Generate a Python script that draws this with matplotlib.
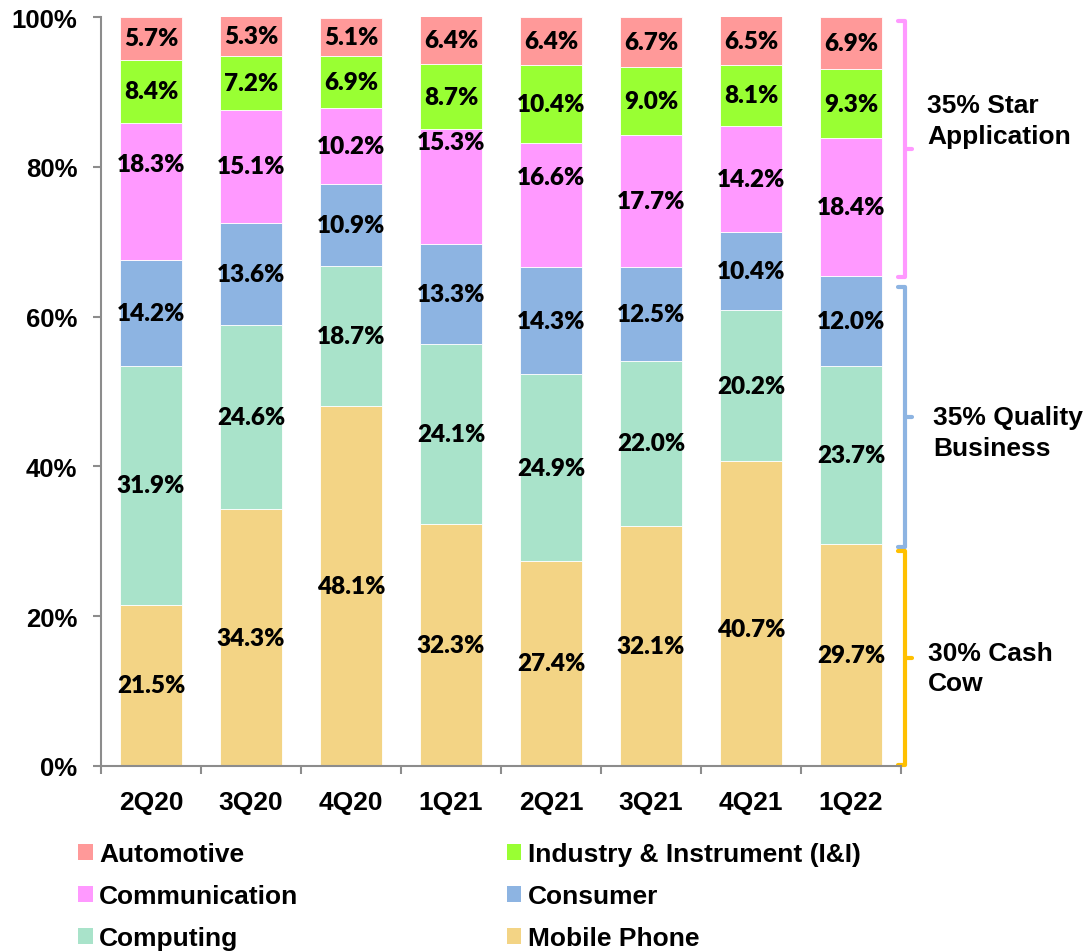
import matplotlib
matplotlib.use("Agg")
import matplotlib.pyplot as plt
from matplotlib.patches import Patch
import numpy as np

quarters = ["2Q20", "3Q20", "4Q20", "1Q21", "2Q21", "3Q21", "4Q21", "1Q22"]
mobile_phone = [21.5, 34.3, 48.1, 32.3, 27.4, 32.1, 40.7, 29.7]
computing = [31.9, 24.6, 18.7, 24.1, 24.9, 22.0, 20.2, 23.7]
consumer = [14.2, 13.6, 10.9, 13.3, 14.3, 12.5, 10.4, 12.0]
communication = [18.3, 15.1, 10.2, 15.3, 16.6, 17.7, 14.2, 18.4]
industry = [8.4, 7.2, 6.9, 8.7, 10.4, 9.0, 8.1, 9.3]
automotive = [5.7, 5.3, 5.1, 6.4, 6.4, 6.7, 6.5, 6.9]

series = [
    ("Mobile Phone", mobile_phone, "#F3D485"),
    ("Computing", computing, "#A9E3CA"),
    ("Consumer", consumer, "#8DB4E2"),
    ("Communication", communication, "#FF99FF"),
    ("Industry & Instrument (I&I)", industry, "#99FF33"),
    ("Automotive", automotive, "#FF9999"),
]

# manual label nudges (in % units) seen in the original
label_nudge = {("Communication", 0): 3.6, ("Communication", 3): 6.0,
               ("Communication", 4): 3.7, ("Mobile Phone", 6): -2.0}

groups = [
    ("35% Star\nApplication", "#FF99FF", 99.4, 65.3, 86.2, 7.76),
    ("35% Quality\nBusiness", "#8DB4E2", 64.0, 29.2, 44.5, 7.82),
    ("30% Cash\nCow", "#FFC000", 28.7, 0.1, 13.1, 7.77),
]

fig = plt.figure(figsize=(10.86, 9.53), dpi=100)
ax = fig.add_axes([101/1086, 1-767/953, 800/1086, 749/953])

x = np.arange(len(quarters))
bottom = np.zeros(len(quarters))
handles = {}
for name, vals, col in series:
    vals = np.array(vals)
    ax.bar(x, vals, 0.62, bottom=bottom, color=col, edgecolor="white", linewidth=0.6)
    for i, v in enumerate(vals):
        yc = bottom[i] + v/2 + label_nudge.get((name, i), 0)
        ax.text(x[i], yc, f"{v:.1f}%", ha="center", va="center",
                fontsize=17.5, fontweight="heavy", family="Lato", color="black")
    bottom += vals
    handles[name] = Patch(facecolor=col, edgecolor="none")

ax.set_xlim(-0.5, 7.5)
ax.set_ylim(0, 100)
for s in ["top", "right"]:
    ax.spines[s].set_visible(False)
for s in ["left", "bottom"]:
    ax.spines[s].set_color("#8C8C8C")
    ax.spines[s].set_linewidth(1.5)

ax.set_yticks([0, 20, 40, 60, 80, 100])
ax.set_yticklabels([f"{v}%" for v in [0, 20, 40, 60, 80, 100]],
                   fontsize=18.5, fontweight="bold", family="Liberation Sans")
ax.tick_params(axis="y", length=6, width=1.5, color="#8C8C8C", pad=11)
ax.set_xticks(np.arange(-0.5, 8, 1))
ax.set_xticklabels([])
ax.tick_params(axis="x", length=6, width=1.5, color="#8C8C8C")
ax.set_xticks(x, minor=True)
ax.set_xticklabels(quarters, minor=True, fontsize=19, fontweight="bold",
                   family="Liberation Sans")
ax.tick_params(axis="x", which="minor", length=0, pad=17)

# brackets
for text, col, ytop, ybot, ytext, xt in groups:
    xv, xh, xn = 7.535, 7.465, 7.61
    ym = (ytop + ybot) / 2
    ax.plot([xh, xv, xv, xh], [ytop, ytop, ybot, ybot], color=col, lw=3,
            clip_on=False, solid_joinstyle="round", solid_capstyle="round")
    ax.plot([xv, xn], [ym, ym], color=col, lw=3, clip_on=False,
            solid_capstyle="round")
    ax.text(xt, ytext, text, ha="left", va="center", fontsize=19,
            fontweight="bold", family="Liberation Sans", linespacing=1.35,
            clip_on=False)

order = ["Automotive", "Communication", "Computing",
         "Industry & Instrument (I&I)", "Consumer", "Mobile Phone"]
leg = fig.legend([handles[n] for n in order], order, loc="upper left",
                 bbox_to_anchor=(78/1086, 1-843/953), ncol=2, frameon=False,
                 borderpad=0, borderaxespad=0, handlelength=0.55,
                 handleheight=0.55, handletextpad=0.25, columnspacing=7.9,
                 labelspacing=0.68,
                 prop={"family": "Liberation Sans", "weight": "bold", "size": 19})

fig.savefig("out.png", dpi=100)
